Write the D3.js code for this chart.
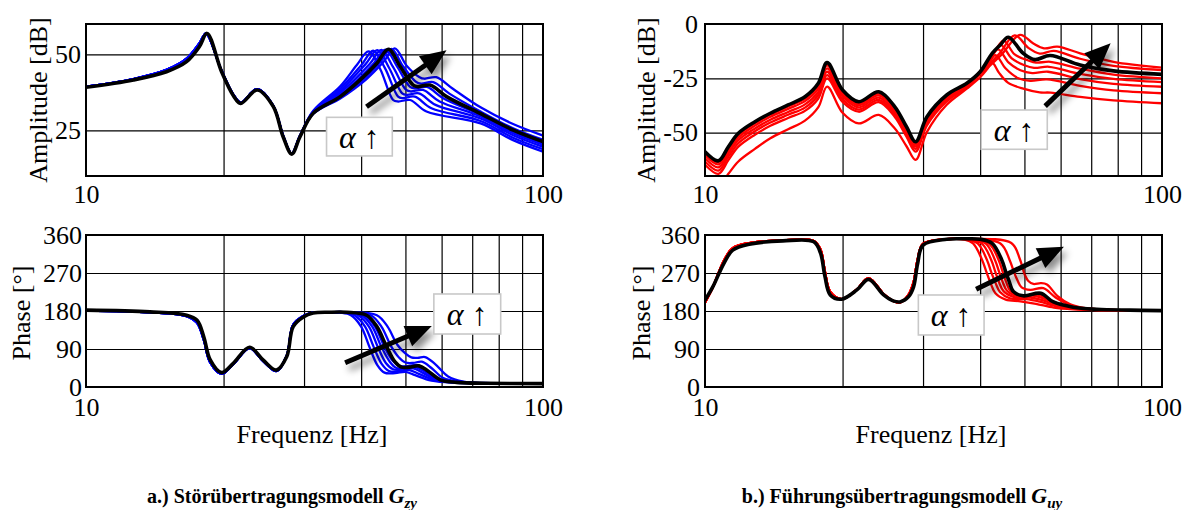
<!DOCTYPE html>
<html>
<head>
<meta charset="utf-8">
<script src="https://cdn.jsdelivr.net/npm/d3@7"></script>
<style>
  body { margin: 0; background: #fff; }
  text { font-family: "Liberation Serif", "Times New Roman", serif; }
</style>
</head>
<body>
<script>
// ---- data (frequency in Hz) ----
const gridFreqs = [20, 30, 40, 50, 60, 70, 80, 90];
const freqTicks = [10, 100];
const ampZyTicks = [25, 50];
const ampUyTicks = [0, -25, -50];
const phaseTicks = [0, 90, 180, 270, 360];

// a.) G_zy amplitude [dB]
const ampZyCommon = [[10,39.2],[12.7,41.6],[15,44.3],[16.6,47.6],[17.7,52.5],[18.4,56.9],[19.8,44.3],[21.0,36.5],[21.8,33.9],[23.7,38.3],[25.7,32.8],[27,22.9],[28.2,17.2],[29.4,22.9]];
const ampZyCommonBlue = [[10,39.4],[12.7,41.9],[15,44.9],[16.6,48.6],[17.7,53.6],[18.3,56.8],[19.8,44.6],[21.0,36.8],[21.8,34.1],[23.7,38.6],[25.7,33.0],[27,23.2],[28.2,17.4],[29.4,23.2]];
const ampZyFamily = [
  [[31.4,31.4],[36,39.5],[39.1,46.4],[41.5,51.0],[44.0,45.3],[47.0,35.0],[48.2,34.5],[51.2,35.0],[55.6,31.2],[73,27.3],[86,21.8],[100,18.0]],
  [[31.4,31.2],[36,38.7],[40.1,46.6],[42.5,51.2],[45.1,45.5],[48.2,36.1],[49.3,35.6],[52.4,36.1],[57.0,32.3],[73,28.1],[86,22.6],[100,18.8]],
  [[31.4,31.0],[36,38.0],[40.9,46.8],[43.4,51.4],[46.0,45.7],[49.2,37.2],[50.4,36.7],[53.5,37.2],[58.2,33.4],[73,28.9],[86,23.4],[100,19.6]],
  [[31.4,30.9],[36,37.3],[41.8,46.9],[44.3,51.5],[47.0,45.8],[50.2,38.3],[51.4,37.8],[54.6,38.3],[59.4,34.5],[73,29.6],[86,24.1],[100,20.3]],
  [[31.4,30.7],[36,36.6],[39.2,41.5],[42.6,47.0],[45.2,51.6],[48.0,45.9],[51.2,39.3],[52.5,38.8],[55.7,39.3],[60.6,35.5],[73,30.2],[86,24.7],[100,20.9]],
  [[31.4,30.5],[36,35.8],[40.4,41.7],[43.9,47.2],[46.6,51.8],[49.4,46.1],[52.8,40.9],[54.1,40.4],[57.5,40.9],[62.4,37.1],[73,31.2],[86,25.7],[100,21.9]],
  [[31.4,30.4],[36,35.5],[41.1,41.9],[44.7,47.4],[47.4,52.0],[50.3,46.3],[53.7,42.5],[55.0,42.0],[58.4,42.5],[63.5,38.7],[73,32.6],[86,27.1],[100,23.3]]
];
const ampZyAlpha = [[31.4,30.6],[36,36.1],[39.8,41.6],[43.3,47.1],[45.9,51.7],[48.7,46.0],[52.0,39.9],[53.3,39.4],[56.6,39.9],[61.5,36.1],[72.8,30.6],[86.1,25.1],[100,21.3]];

// a.) G_zy phase [deg]
const phaseZyCommon = [[10,182],[13.8,178],[16.6,170],[17.5,158],[18.1,119],[18.7,64],[19.8,34],[21.0,56],[22.8,94],[24.4,64],[26.1,40],[27.5,72],[28.4,143],[29.9,166],[31.4,175],[34,177]];
const phaseZyCommonBlue = [[10,181],[13.8,177],[16.6,168],[17.5,152],[18.1,112],[18.7,58],[19.8,31],[21.0,54],[22.8,92],[24.4,62],[26.1,38],[27.5,74],[28.4,147],[29.9,168],[31.4,176],[34,177]];
const phaseZyFamily = [
  [[36,176],[38.0,170],[40.0,143],[41.7,95],[43.4,52],[45.0,34],[47.5,33],[50.0,36],[52.5,28],[57,15],[64.7,10],[75,9],[100,8]],
  [[37,177],[38.7,170],[40.8,143],[42.6,95],[44.4,54],[46.0,38],[48.5,37],[51.0,40],[53.5,31],[58,16],[64.7,10.5],[75,9],[100,8]],
  [[37.2,177],[39.4,170],[41.6,143],[43.5,95],[45.3,57],[47.0,42],[49.3,41],[52.0,44],[54.5,34],[58.5,17],[64.7,11],[75,9],[100,8]],
  [[37.2,177],[40.1,170],[42.3,143],[44.3,95],[46.2,60],[47.8,45],[50.0,44],[52.5,47],[55.2,36],[59,17],[64.7,11],[75,9],[100,8]],
  [[37.2,177],[40.7,170],[42.9,143],[45.0,95],[46.9,62],[48.5,50],[50.8,50],[53.2,52],[55.8,39],[59.4,18],[64.7,11],[75,9],[100,8]],
  [[37.2,177],[42.0,170],[44.3,143],[46.5,97],[48.4,70],[50.0,58],[52.0,57],[54.3,60],[57.0,45],[60.5,21],[66,12],[75,9],[100,8]],
  [[37.2,177],[43.3,170],[45.7,143],[48.0,100],[49.9,80],[51.5,70],[53.2,69],[55.2,71],[58.0,55],[62,25],[67,13],[75,9.5],[100,8]]
];
const phaseZyAlpha = [[37.2,177],[41.1,170],[43.3,143],[45.5,95],[47.4,60],[49.0,47],[51.0,47],[53.5,50],[56.0,38],[59.6,17],[64.7,11],[75,9],[100,8]];

// b.) G_uy amplitude [dB]
const ampUyFreqLow = [10,10.7,11.25,11.83,12.86,13.9,15.2,16.55,17.7,18.5,20,21.7,24,26,27.6,28.9,30.6,33.8,37.4];
const ampUyAlphaLow = [-58.8,-63.0,-56.5,-50.3,-45.0,-41.1,-37.3,-33.5,-27.3,-17.8,-30.4,-35.8,-31.2,-38.0,-47.3,-54.2,-42.7,-32.7,-27.3];
const ampUyFamilyLow = [
  [-70.8,-75.0,-69.0,-63.3,-57.5,-52.6,-48.5,-44.5,-38.3,-28.8,-40.9,-45.8,-41.9,-48.0,-56.3,-62.6,-49.7,-37.2,-29.8],
  [-64.8,-69.0,-62.7,-56.5,-51.0,-46.9,-43.3,-40.0,-34.3,-25.0,-35.9,-40.4,-36.0,-42.7,-51.9,-58.8,-46.7,-35.7,-29.1],
  [-63.3,-67.5,-61.1,-54.9,-49.4,-45.4,-41.8,-38.5,-32.7,-23.5,-34.7,-39.4,-35.0,-41.5,-50.6,-57.5,-45.7,-34.9,-28.6],
  [-61.8,-66.0,-59.7,-53.5,-48.1,-44.1,-40.5,-37.0,-31.3,-22.0,-33.4,-38.4,-33.9,-40.5,-49.6,-56.5,-44.7,-34.2,-28.2],
  [-60.4,-64.6,-58.3,-52.2,-46.8,-42.7,-39.1,-35.5,-29.7,-20.4,-32.3,-37.4,-32.9,-39.5,-48.7,-55.6,-43.9,-33.6,-27.8],
  [-59.4,-63.6,-57.2,-51.1,-45.7,-41.7,-38.0,-34.4,-28.4,-19.1,-31.3,-36.7,-32.1,-38.8,-48.1,-55.0,-43.3,-33.1,-27.5],
  [-59.0,-63.2,-56.8,-50.6,-45.3,-41.4,-37.6,-33.9,-27.8,-18.4,-30.8,-36.2,-31.6,-38.4,-47.7,-54.6,-43.0,-32.9,-27.4]
];
const ampUyFamilyHigh = [
  [[40,-24.5],[41.5,-20.6],[42.5,-17.8],[44,-22.5],[46,-27.0],[49.7,-29.8],[54,-31.5],[57,-31.6],[66.2,-33.6],[78.3,-35.2],[100,-36.5]],
  [[40,-23.0],[41.8,-18.0],[43.2,-14.3],[45.5,-20.5],[48.5,-25.0],[51.5,-26.2],[56,-25.5],[66.2,-28.5],[78.3,-30.6],[100,-31.9]],
  [[40,-22.2],[42,-16.2],[43.8,-11.7],[46.2,-17.8],[49,-21.3],[52,-22.6],[56.3,-22.0],[66.2,-25.4],[78.3,-27.6],[100,-28.9]],
  [[40,-21.8],[42.3,-15.0],[44.4,-9.7],[46.9,-15.8],[50,-19.0],[52.5,-20.2],[56.6,-19.7],[66.2,-23.0],[78.3,-25.3],[100,-26.8]],
  [[40,-21.8],[42.7,-14.0],[45,-7.7],[47.6,-14.0],[51,-16.8],[53,-17.8],[57,-17.4],[66.2,-20.6],[78.3,-23.3],[100,-25.0]],
  [[40,-22.5],[44,-13.8],[47.6,-5.2],[51,-11.0],[54,-13.6],[58,-12.4],[66.2,-16.0],[78.3,-19.3],[100,-21.2]],
  [[40,-23.0],[44.5,-14.2],[48.9,-5.0],[52.3,-9.0],[55.2,-11.2],[59,-10.4],[66.2,-13.5],[78.3,-17.4],[100,-20.1]]
];
const ampUyAlphaHigh = [[40,-22.0],[42.5,-13.5],[44.3,-9.6],[46.1,-6.1],[49.7,-13.5],[52.7,-16.4],[56.9,-14.5],[66.2,-18.9],[78.3,-21.6],[100,-23.2]];

// b.) G_uy phase [deg]
const phaseUyCommon = [[10,206],[10.4,237],[11.0,293],[11.5,324],[12.5,338],[14.8,346],[17.3,344],[17.9,317],[18.3,262],[18.8,218],[19.9,208],[21.5,230],[22.8,255],[24.6,218],[25.8,204],[26.8,202],[27.9,214],[28.6,237],[29.2,293],[30.0,336],[33.8,350]];
const phaseUyCommonRed = [[10,200],[10.4,236],[11.0,299],[11.5,329],[12.5,341],[14.8,347],[17.3,346],[17.9,325],[18.3,273],[18.8,225],[19.9,208],[21.5,231],[22.8,258],[24.6,220],[25.8,204],[26.8,201],[27.9,219],[28.6,248],[29.2,302],[30.0,339],[33.8,350]];
const phaseUyFamily = [
  [[37,349],[38.6,340],[40.4,301],[41.3,272],[42.2,245],[43.2,222],[45.5,207],[49,203],[53,197],[58,188],[64,184],[75,182],[100,181]],
  [[37,350],[39.5,340],[41.4,301],[42.3,272],[43.2,247],[44.2,225],[46.5,210],[50.5,208],[54,202],[59,191],[64.5,185],[75,182],[100,181]],
  [[37,350],[40.3,340],[42.3,301],[43.2,272],[44.0,248],[45.0,227],[47.5,213],[51.5,212],[55,205],[59.5,192],[65,185],[75,182],[100,181]],
  [[37,351],[41.1,340],[43.1,301],[44.0,273],[44.8,249],[45.8,228],[48.3,215],[52.5,216],[56,207],[60,194],[65,186],[75,182],[100,181]],
  [[37,351],[41.8,340],[43.9,301],[44.8,273],[45.6,249],[46.6,227],[49.0,216],[53.5,219],[57,205],[61,193],[66,186],[75,182],[100,181]],
  [[37,351],[44.3,340],[46.4,301],[47.4,273],[48.3,252],[49.3,236],[51.5,230],[55.0,234],[58.5,212],[63,194],[68,186],[80,182],[100,181]],
  [[37,351],[46.8,341],[48.9,302],[50.0,268],[51.0,251],[52.3,244],[54.3,246],[56,243],[59,216],[63,196],[68,187],[80,182],[100,181]]
];
const phaseUyAlpha = [[37,351],[40,350],[42.5,340],[44.6,301],[45.5,273],[46.3,250],[47.3,226],[49.7,216],[54.3,222],[57.7,202],[63.9,189],[72,184],[85,182],[100,181]];

// annotation arrows and boxes in data units: [[f0,v0],[f1,v1]]
const noteAmpZy   = {arrow: [[41.1,32.8],[61.5,51.4]],  box: [[33.6,29.3],[46.8,16.6]]};
const notePhaseZy = {arrow: [[36.9,57.6],[57.1,144.5]], box: [[57.7,220.3],[80.8,125.5]]};
const noteAmpUy   = {arrow: [[55.5,-37.8],[77.2,-8.9]], box: [[40.2,-39.6],[56.1,-57.7]]};
const notePhaseUy = {arrow: [[39.2,231.4],[61.0,332.3]],box: [[29.3,217.9],[40.8,123.2]]};

// ---- drawing ----
const svg = d3.select("body").append("svg")
  .attr("width", 1191).attr("height", 510);
const defs = svg.append("defs");
defs.append("filter").attr("id", "shadow")
  .attr("x", "-50%").attr("y", "-50%").attr("width", "200%").attr("height", "200%")
  .append("feDropShadow")
  .attr("dx", 4).attr("dy", 6).attr("stdDeviation", 3.5)
  .attr("flood-color", "#000").attr("flood-opacity", 0.45);

const withCommon = (common, tails) => tails.map(t => common.concat(t));
const zipLow = (vals) => ampUyFreqLow.map((f, i) => [f, vals[i]]);

function drawPanel(p) {
  const x = d3.scaleLog().domain([10, 100]).range([p.left, p.right]);
  const y = d3.scaleLinear().domain(p.yDomain).range([p.bottom, p.top]);
  const line = d3.line()
    .x(d => x(d[0])).y(d => y(d[1]))
    .curve(d3.curveCatmullRom.alpha(0.5));
  const g = svg.append("g");

  defs.append("clipPath").attr("id", "clip-" + p.id)
    .append("rect")
    .attr("x", p.left).attr("y", p.top)
    .attr("width", p.right - p.left).attr("height", p.bottom - p.top);

  // grid
  g.append("g")
    .attr("transform", `translate(0,${p.bottom})`)
    .call(d3.axisBottom(x).tickValues(gridFreqs).tickSize(-(p.bottom - p.top)).tickFormat(""))
    .call(a => a.select(".domain").remove())
    .selectAll("line").attr("stroke", "#000").attr("stroke-width", 1.2);
  g.append("g")
    .attr("transform", `translate(${p.left},0)`)
    .call(d3.axisLeft(y).tickValues(p.yTicks).tickSize(-(p.right - p.left)).tickFormat(""))
    .call(a => a.select(".domain").remove())
    .selectAll("line").attr("stroke", "#000").attr("stroke-width", 1.2);

  // curves
  const cg = g.append("g").attr("clip-path", `url(#clip-${p.id})`)
    .attr("fill", "none").attr("stroke-linejoin", "round").attr("stroke-linecap", "round");
  cg.selectAll("path.fam")
    .data(p.family)
    .enter().append("path")
    .attr("class", "fam")
    .attr("d", line)
    .attr("stroke", p.color)
    .attr("stroke-width", 2.3);
  cg.append("path")
    .attr("d", line(p.alpha))
    .attr("stroke", "#000")
    .attr("stroke-width", 3.6);

  // frame
  g.append("rect")
    .attr("x", p.left).attr("y", p.top)
    .attr("width", p.right - p.left).attr("height", p.bottom - p.top)
    .attr("fill", "none").attr("stroke", "#000").attr("stroke-width", 2);

  // tick labels
  g.append("g")
    .attr("transform", `translate(${p.left},0)`)
    .call(d3.axisLeft(y).tickValues(p.yTicks).tickSize(0).tickPadding(p.yPad).tickFormat(d => String(d)))
    .call(a => a.select(".domain").remove())
    .selectAll("text")
    .attr("font-family", "Liberation Serif").attr("font-size", 26).attr("fill", "#000");
  g.append("g")
    .attr("transform", `translate(0,${p.bottom})`)
    .call(d3.axisBottom(x).tickValues(freqTicks).tickSize(0).tickPadding(p.xPad).tickFormat(d => String(d)))
    .call(a => a.select(".domain").remove())
    .selectAll("text")
    .attr("font-family", "Liberation Serif").attr("font-size", 26).attr("fill", "#000");

  // y title
  g.append("text")
    .attr("transform", `translate(${p.titleX},${(p.top + p.bottom) / 2 + p.titleDy}) rotate(-90)`)
    .attr("text-anchor", "middle")
    .attr("font-size", 26)
    .text(p.title);

  // annotation
  const n = p.note;
  const bx0 = x(n.box[0][0]), by0 = y(n.box[0][1]);
  const bx1 = x(n.box[1][0]), by1 = y(n.box[1][1]);
  const a0 = [x(n.arrow[0][0]), y(n.arrow[0][1])];
  const a1 = [x(n.arrow[1][0]), y(n.arrow[1][1])];
  const len = Math.hypot(a1[0] - a0[0], a1[1] - a0[1]);
  const u = [(a1[0] - a0[0]) / len, (a1[1] - a0[1]) / len];
  const nv = [-u[1], u[0]];
  const headL = 26, headW = 11;
  const base = [a1[0] - u[0] * headL, a1[1] - u[1] * headL];
  const ag = g.append("g").attr("filter", "url(#shadow)");
  ag.append("line")
    .attr("x1", a0[0]).attr("y1", a0[1])
    .attr("x2", base[0] + u[0] * 3).attr("y2", base[1] + u[1] * 3)
    .attr("stroke", "#000").attr("stroke-width", 5);
  ag.append("path")
    .attr("d", d3.line()([a1, [base[0] + nv[0] * headW, base[1] + nv[1] * headW], [base[0] - nv[0] * headW, base[1] - nv[1] * headW]]) + "Z")
    .attr("fill", "#000");

  const bg = g.append("g");
  bg.append("rect")
    .attr("x", bx0).attr("y", by0)
    .attr("width", bx1 - bx0).attr("height", by1 - by0)
    .attr("fill", "#fff").attr("stroke", "#c8c8c8").attr("stroke-width", 1.6);
  const t = bg.append("text")
    .attr("x", (bx0 + bx1) / 2).attr("y", (by0 + by1) / 2 + 11)
    .attr("text-anchor", "middle").attr("font-size", 32);
  t.append("tspan").attr("font-style", "italic").text("α");
  t.append("tspan").text(" ↑");
}

const panels = [
  {id: "az", left: 86, right: 543, top: 24, bottom: 176, yDomain: [10, 60], yTicks: ampZyTicks,
   color: "#0000ff", family: withCommon(ampZyCommonBlue, ampZyFamily), alpha: ampZyCommon.concat(ampZyAlpha),
   title: "Amplitude [dB]", titleX: 47, titleDy: 0, yPad: 5, xPad: 9, note: noteAmpZy},
  {id: "pz", left: 86, right: 543, top: 235, bottom: 387, yDomain: [0, 360], yTicks: phaseTicks,
   color: "#0000ff", family: withCommon(phaseZyCommonBlue, phaseZyFamily), alpha: phaseZyCommon.concat(phaseZyAlpha),
   title: "Phase [°]", titleX: 30, titleDy: 2, yPad: 4, xPad: 11, note: notePhaseZy},
  {id: "au", left: 705, right: 1162, top: 24, bottom: 176, yDomain: [-70, 0], yTicks: ampUyTicks,
   color: "#ff0000", family: ampUyFamilyLow.map((v, i) => zipLow(v).concat(ampUyFamilyHigh[i])),
   alpha: zipLow(ampUyAlphaLow).concat(ampUyAlphaHigh),
   title: "Amplitude [dB]", titleX: 655, titleDy: 0, yPad: 7, xPad: 9, note: noteAmpUy},
  {id: "pu", left: 705, right: 1162, top: 235, bottom: 387, yDomain: [0, 360], yTicks: phaseTicks,
   color: "#ff0000", family: withCommon(phaseUyCommonRed, phaseUyFamily), alpha: phaseUyCommon.concat(phaseUyAlpha),
   title: "Phase [°]", titleX: 650, titleDy: 2, yPad: 5, xPad: 11, note: notePhaseUy}
];
panels.forEach(drawPanel);

// x titles
[[312, "Frequenz [Hz]"], [931, "Frequenz [Hz]"]].forEach(([cx, s]) => {
  svg.append("text").attr("x", cx).attr("y", 443)
    .attr("text-anchor", "middle").attr("font-size", 26).text(s);
});

// captions
const captions = [
  {x: 282, pre: "a.) Störübertragungsmodell ", sub: "zy"},
  {x: 902, pre: "b.) Führungsübertragungsmodell ", sub: "uy"}
];
captions.forEach(c => {
  const t = svg.append("text").attr("x", c.x).attr("y", 503)
    .attr("text-anchor", "middle").attr("font-size", 20).attr("font-weight", "bold");
  t.append("tspan").text(c.pre);
  t.append("tspan").attr("font-style", "italic").attr("font-size", 22).text("G");
  t.append("tspan").attr("font-style", "italic").attr("font-size", 15).attr("dy", 5).text(c.sub);
});
</script>
</body>
</html>
